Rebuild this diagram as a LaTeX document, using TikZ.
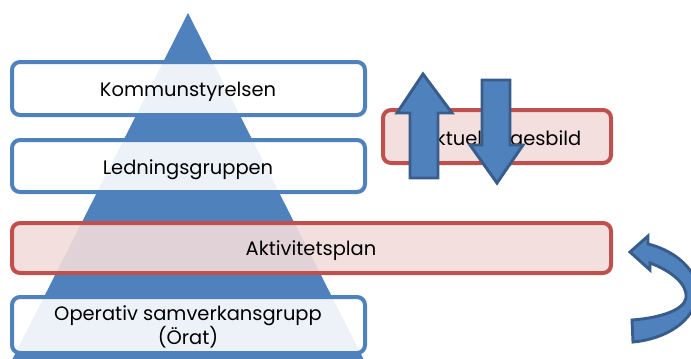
\documentclass[tikz,border=0pt]{standalone}
\usepackage{fontspec}
\setmainfont{Poppins}
\definecolor{triblue}{HTML}{4F81BD}
\definecolor{darkblue}{HTML}{385D8A}
\definecolor{redline}{HTML}{C0504D}
\definecolor{pinkfill}{HTML}{F2DCDB}
\begin{document}
\begin{tikzpicture}[x=0.75pt,y=-0.75pt,
  bluebox/.style={draw=triblue,line width=3pt,rounded corners=6pt,fill=white,fill opacity=0.9,text opacity=1},
  redbox/.style={draw=redline,line width=3pt,rounded corners=6pt,fill=pinkfill,fill opacity=0.89,text opacity=1},
  lbl/.style={font=\fontsize{14.6}{17}\selectfont,align=center,text=black},
  bluearrow/.style={fill=triblue,draw=darkblue,line width=2.2pt,line join=miter}]
\useasboundingbox (0,0) rectangle (691,358);
\clip (0,0) rectangle (691,358);
\fill[white] (0,0) rectangle (691,358);
% pyramid
\fill[triblue] (188,13) -- (364,360) -- (12,360) -- cycle;
% boxes
\path[bluebox] (12,62) rectangle (365,115);
\node[lbl] (ks) at (188,92) {Kommunstyrelsen};
\path[bluebox] (12,140) rectangle (365,192);
\node[lbl] (lg) at (188,170) {Ledningsgruppen};
\path[redbox] (12,223) rectangle (611,273);
\node[lbl] (ap) at (311,251) {Aktivitetsplan};
\path[bluebox] (12,297) rectangle (365,353);
\node[lbl] (os) at (188,327) {Operativ samverkansgrupp\\(Örat)};
\path[redbox] (383,110) rectangle (611,163);
\node[lbl] (al) at (502,141) {Aktuell lägesbild};
% up / down arrows
\draw[bluearrow] (423,74) -- (452,113) -- (438,113) -- (438,178) -- (410,178) -- (410,113) -- (397,113) -- cycle;
\draw[bluearrow] (482,80) -- (510,80) -- (510,145) -- (523,145) -- (497,183) -- (470,145) -- (482,145) -- cycle;
% curved arrow
\draw[bluearrow] (630,252) -- (648,236) -- (648,244)
  .. controls (680,252) and (700,275) .. (697,295)
  .. controls (694,322) and (665,339) .. (633,342)
  -- (632,320)
  .. controls (660,318) and (684,310) .. (686,298)
  .. controls (688,285) and (672,271) .. (650,263)
  -- (650,270) -- cycle;
\end{tikzpicture}
\end{document}
